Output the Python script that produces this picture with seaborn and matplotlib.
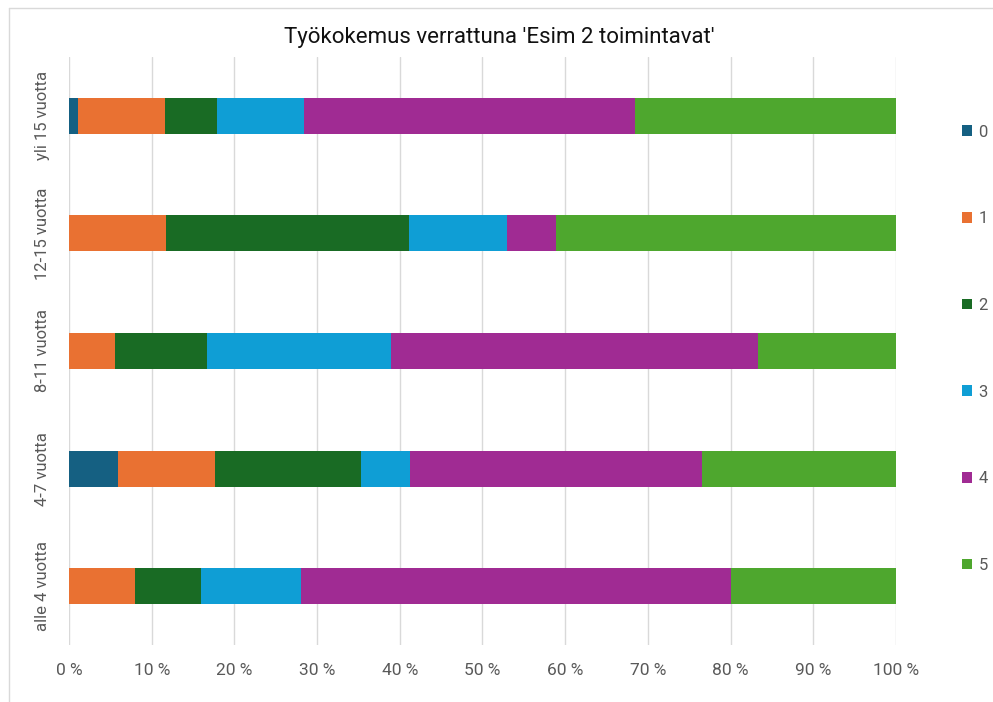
import numpy as np
import pandas as pd
import seaborn as sns
import matplotlib.pyplot as plt

# categories from top to bottom as in the chart
groups = ['yli 15 vuotta', '12-15 vuotta', '8-11 vuotta', '4-7 vuotta', 'alle 4 vuotta']
levels = ['0', '1', '2', '3', '4', '5']

# share of answers (%) per level
p0 = [1.1, 0.0, 0.0, 5.9, 0.0]
p1 = [10.5, 11.8, 5.6, 11.8, 8.0]
p2 = [6.3, 29.4, 11.1, 17.6, 8.0]
p3 = [10.5, 11.8, 22.2, 5.9, 12.0]
p4 = [40.0, 5.9, 44.4, 35.3, 52.0]
p5 = [31.6, 41.2, 16.7, 23.5, 20.0]

colors = ['#156082', '#E97132', '#196B24', '#0F9ED5', '#A02B93', '#4EA72E']

df = pd.DataFrame({'group': groups, '0': p0, '1': p1, '2': p2, '3': p3, '4': p4, '5': p5})
cum = df[levels].cumsum(axis=1)
cum = cum.div(cum['5'], axis=0) * 100

sns.set_theme(style='white')
plt.rcParams['font.family'] = ['Roboto', 'DejaVu Sans']

fig = plt.figure(figsize=(9.93, 7.02), dpi=100)
ax = fig.add_axes([0.0695, 0.0812, 0.8328, 0.8376])

# draw biggest cumulative first so smaller ones sit on top
for lev in reversed(levels):
    sns.barplot(x=cum[lev], y=df['group'], color=colors[int(lev)], orient='h',
                width=0.306, linewidth=0, saturation=1, ax=ax, label=lev, legend=False)
if ax.get_legend() is not None:
    ax.get_legend().remove()

ax.set_xlim(0, 100)
ax.set_ylim(4.5, -0.5)
ax.set_xticks(np.arange(0, 101, 10))
ax.set_xticklabels([f'{v} %' for v in range(0, 101, 10)], color='#595959', fontsize=12.5)
ax.tick_params(axis='x', length=0, pad=13)
ax.tick_params(axis='y', length=0, pad=14)
for lab in ax.get_yticklabels():
    lab.set_rotation(90)
    lab.set_va('center')
    lab.set_color('#595959')
    lab.set_fontsize(12)
ax.set_xlabel('')
ax.set_ylabel('')
ax.grid(axis='x', color='#d9d9d9', linewidth=1)
ax.set_axisbelow(True)
for s in ax.spines.values():
    s.set_visible(False)

fig.text(0.503, 0.947, "Työkokemus verrattuna 'Esim 2 toimintavat'", fontsize=16,
         color='#111111', ha='center', va='center')

handles, labels = ax.get_legend_handles_labels()
order = sorted(range(len(labels)), key=lambda i: int(labels[i]))
leg = fig.legend([handles[i] for i in order], [labels[i] for i in order],
                 loc='upper left', bbox_to_anchor=(0.962, 0.832), frameon=False,
                 fontsize=12, labelcolor='#595959', handlelength=0.6, handleheight=0.6,
                 handletextpad=0.4, labelspacing=4.3, borderaxespad=0)

# light chart border
fig.add_artist(plt.Line2D([0.009, 0.009], [0, 0.989], color='#d9d9d9', linewidth=1))
fig.add_artist(plt.Line2D([0.009, 1.0], [0.989, 0.989], color='#d9d9d9', linewidth=1))

fig.savefig('out.png', dpi=100)
